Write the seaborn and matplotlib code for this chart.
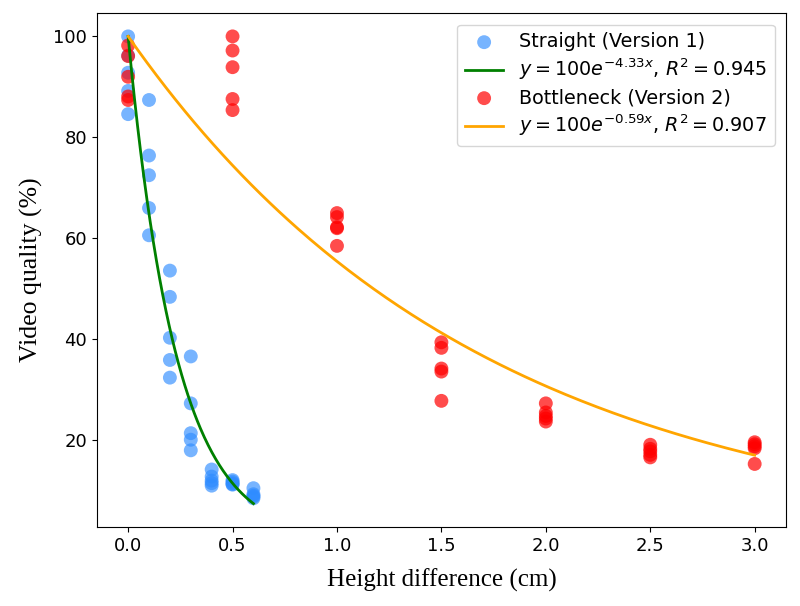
import matplotlib
matplotlib.use('Agg')
import matplotlib.pyplot as plt
import seaborn as sns
import numpy as np
import pandas as pd

# Straight (Version 1) measurements
straight_x = [0.0] * 5 + [0.1] * 5 + [0.2] * 5 + [0.3] * 5 + [0.4] * 5 + [0.5] * 5 + [0.6] * 5
straight_y = [100.0, 96.2, 92.8, 89.2, 84.6,
              87.4, 76.4, 72.5, 66.0, 60.6,
              53.6, 48.4, 40.3, 35.9, 32.4,
              36.6, 27.3, 21.4, 20.1, 18.0,
              14.2, 12.8, 12.0, 11.5, 11.0,
              12.1, 11.8, 11.5, 11.3, 11.2,
              10.5, 9.3, 9.0, 8.8, 8.5]

# Bottleneck (Version 2) measurements
bottleneck_x = [0.0] * 5 + [0.5] * 5 + [1.0] * 5 + [1.5] * 5 + [2.0] * 5 + [2.5] * 5 + [3.0] * 5
bottleneck_y = [98.2, 96.1, 92.0, 88.1, 87.4,
                100.0, 97.2, 93.9, 87.6, 85.4,
                65.0, 64.2, 62.2, 62.0, 58.5,
                39.4, 38.3, 34.2, 33.6, 27.8,
                27.3, 25.5, 24.8, 24.3, 23.7,
                19.1, 18.3, 17.8, 17.1, 16.6,
                19.6, 19.2, 18.8, 18.4, 15.3]

# fitted decay rates and R^2 shown in the legend
straight_k, straight_r2 = 4.33, 0.945
bottleneck_k, bottleneck_r2 = 0.59, 0.907

fig, ax = plt.subplots(figsize=(8, 6.06), dpi=100)

df1 = pd.DataFrame({'x': straight_x, 'y': straight_y})
df2 = pd.DataFrame({'x': bottleneck_x, 'y': bottleneck_y})

sns.scatterplot(data=df1, x='x', y='y', ax=ax, color='#2f8cff', alpha=0.65, s=100,
                edgecolor='none', label='Straight (Version 1)')
xs1 = np.linspace(0, max(straight_x), 200)
sns.lineplot(x=xs1, y=100 * np.exp(-straight_k * xs1), ax=ax, color='green', linewidth=2,
             label=rf'$y = 100e^{{-{straight_k}x}}$, $R^2 = {straight_r2}$')

sns.scatterplot(data=df2, x='x', y='y', ax=ax, color='red', alpha=0.7, s=100,
                edgecolor='none', label='Bottleneck (Version 2)')
xs2 = np.linspace(0, max(bottleneck_x), 200)
sns.lineplot(x=xs2, y=100 * np.exp(-bottleneck_k * xs2), ax=ax, color='orange', linewidth=2,
             label=rf'$y = 100e^{{-{bottleneck_k}x}}$, $R^2 = {bottleneck_r2}$')

ax.set_xlabel('Height difference (cm)', fontsize=18, family='Liberation Serif', labelpad=10)
ax.set_ylabel('Video quality (%)', fontsize=18.5, family='Liberation Serif', labelpad=7.5)
ax.tick_params(labelsize=13)
ax.legend(fontsize=13.8, loc='upper right', labelspacing=0.3, borderaxespad=0.6)

fig.subplots_adjust(left=0.121, right=0.9825, top=0.9785, bottom=0.1304)
plt.savefig('out.png', dpi=100)
